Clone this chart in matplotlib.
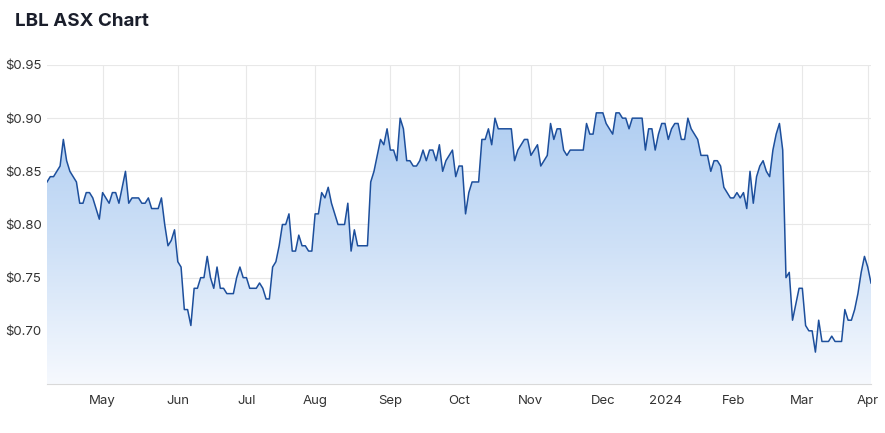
import numpy as np
import pandas as pd
import matplotlib
matplotlib.use('Agg')
import matplotlib.pyplot as plt
from matplotlib.colors import LinearSegmentedColormap
from matplotlib.patches import Polygon

# ASX trading days, Apr 2023 - Apr 2024
holidays = ['2023-04-07', '2023-04-10', '2023-04-25', '2023-06-12', '2023-12-25',
            '2023-12-26', '2024-01-01', '2024-01-26', '2024-03-29', '2024-04-01']
start_date = '2023-04-03'

close = [
    0.840, 0.845, 0.845, 0.850, 0.855, 0.880, 0.860, 0.850, 0.845, 0.840,
    0.820, 0.820, 0.830, 0.830, 0.825, 0.815, 0.805, 0.830, 0.825, 0.820,
    0.830, 0.830, 0.820, 0.835, 0.850, 0.820, 0.825, 0.825, 0.825, 0.820,
    0.820, 0.825, 0.815, 0.815, 0.815, 0.825, 0.800, 0.780, 0.785, 0.795,
    0.765, 0.760, 0.720, 0.720, 0.705, 0.740, 0.740, 0.750, 0.750, 0.770,
    0.750, 0.740, 0.760, 0.740, 0.740, 0.735, 0.735, 0.735, 0.750, 0.760,
    0.750, 0.750, 0.740, 0.740, 0.740, 0.745, 0.740, 0.730, 0.730, 0.760,
    0.765, 0.780, 0.800, 0.800, 0.810, 0.775, 0.775, 0.790, 0.780, 0.780,
    0.775, 0.775, 0.810, 0.810, 0.830, 0.825, 0.835, 0.820, 0.810, 0.800,
    0.800, 0.800, 0.820, 0.775, 0.795, 0.780, 0.780, 0.780, 0.780, 0.840,
    0.850, 0.865, 0.880, 0.875, 0.890, 0.870, 0.870, 0.860, 0.900, 0.890,
    0.860, 0.860, 0.855, 0.855, 0.860, 0.870, 0.860, 0.870, 0.870, 0.860,
    0.875, 0.850, 0.860, 0.865, 0.870, 0.845, 0.855, 0.855, 0.810, 0.830,
    0.840, 0.840, 0.840, 0.880, 0.880, 0.890, 0.875, 0.900, 0.890, 0.890,
    0.890, 0.890, 0.890, 0.860, 0.870, 0.875, 0.880, 0.880, 0.865, 0.870,
    0.875, 0.855, 0.860, 0.865, 0.895, 0.880, 0.890, 0.890, 0.870, 0.865,
    0.870, 0.870, 0.870, 0.870, 0.870, 0.895, 0.885, 0.885, 0.905, 0.905,
    0.905, 0.895, 0.890, 0.885, 0.905, 0.905, 0.900, 0.900, 0.890, 0.900,
    0.900, 0.900, 0.900, 0.870, 0.890, 0.890, 0.870, 0.885, 0.895, 0.895,
    0.880, 0.890, 0.895, 0.895, 0.880, 0.880, 0.900, 0.890, 0.885, 0.880,
    0.865, 0.865, 0.865, 0.850, 0.860, 0.860, 0.855, 0.835, 0.830, 0.825,
    0.825, 0.830, 0.825, 0.830, 0.815, 0.850, 0.820, 0.845, 0.855, 0.860,
    0.850, 0.845, 0.870, 0.885, 0.895, 0.870, 0.750, 0.755, 0.710, 0.725,
    0.740, 0.740, 0.705, 0.700, 0.700, 0.680, 0.710, 0.690, 0.690, 0.690,
    0.695, 0.690, 0.690, 0.690, 0.720, 0.710, 0.710, 0.720, 0.735, 0.755,
    0.770, 0.760, 0.745,
]

month_labels = ['May', 'Jun', 'Jul', 'Aug', 'Sep', 'Oct', 'Nov', 'Dec',
                '2024', 'Feb', 'Mar', 'Apr']
yticks = [0.70, 0.75, 0.80, 0.85, 0.90, 0.95]

bday = pd.offsets.CustomBusinessDay(holidays=holidays)
dates = pd.date_range(start_date, periods=len(close), freq=bday)
x = np.arange(len(close))

# first trading day of each month (skip the partial first month)
periods = dates.to_period('M')
first_idx = [i for i in range(1, len(dates)) if periods[i] != periods[i - 1]]

plt.rcParams['font.family'] = ['Inter', 'DejaVu Sans']

fig = plt.figure(figsize=(8.85, 4.33), dpi=100)
ax = fig.add_axes([47 / 885, 1 - 384 / 433, (871 - 47) / 885, (384 - 65) / 433])

ymin, ymax = 0.65, 0.95
ax.set_xlim(x[0], x[-1])
ax.set_ylim(ymin, ymax)

# gradient area under the line, spanning the series' own height
cmap = LinearSegmentedColormap.from_list('fade', ['#f6f9fe', '#cfe1f7', '#b0cef2'])
grad = np.linspace(0, 1, 256).reshape(-1, 1)
im = ax.imshow(grad, extent=[x[0], x[-1], ymin, max(close)], origin='lower',
               aspect='auto', cmap=cmap, zorder=1)
verts = [(x[0], ymin)] + list(zip(x, close)) + [(x[-1], ymin)]
poly = Polygon(verts, closed=True, facecolor='none', edgecolor='none')
ax.add_patch(poly)
im.set_clip_path(poly)
ax.set_ylim(ymin, ymax)

ax.plot(x, close, color='#1d4f9c', lw=1.1, zorder=3)

ax.set_yticks(yticks)
ax.set_yticklabels(['$%.2f' % v for v in yticks])
ax.set_xticks(first_idx)
ax.set_xticklabels(month_labels[:len(first_idx)])

ax.grid(color='#e8e8e8', lw=0.8)
ax.set_axisbelow(True)
for s in ['top', 'right', 'left']:
    ax.spines[s].set_visible(False)
ax.spines['bottom'].set_color('#d9d9d9')
ax.tick_params(length=0, labelsize=9.5, colors='#333333')
ax.tick_params(axis='x', pad=8)
ax.tick_params(axis='y', pad=4)

fig.text(15 / 885, 1 - 21 / 433, 'LBL ASX Chart', fontsize=13.5, fontweight='bold',
         color='#1a1e2b', va='center', ha='left')

fig.savefig('out.png', dpi=100)
